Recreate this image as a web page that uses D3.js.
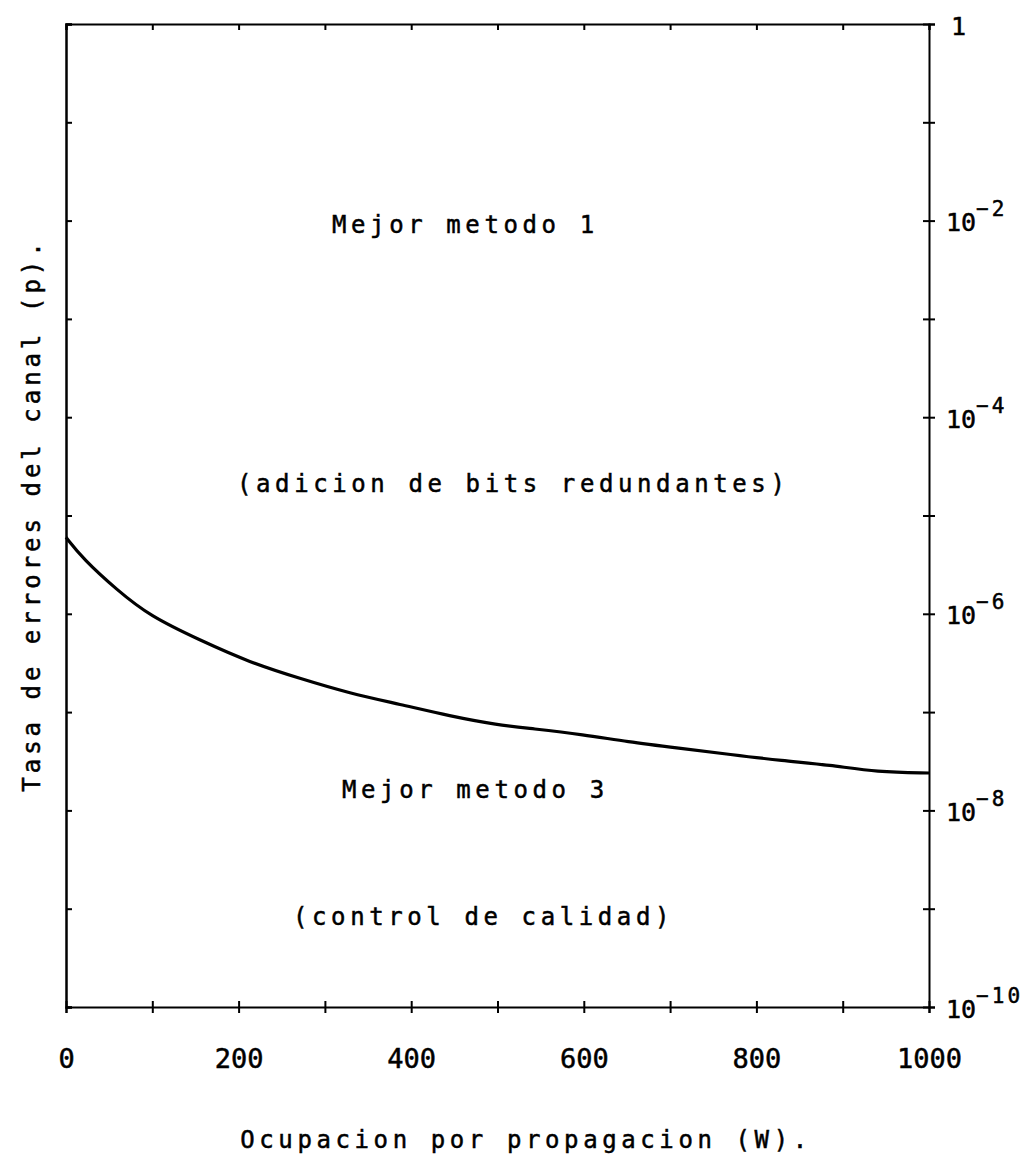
<!doctype html>
<html>
<head>
<meta charset="utf-8">
<style>
  body { margin: 0; background: #fff; }
  text { font-family: "DejaVu Sans Mono", monospace; fill: #000; stroke: #000; stroke-width: 0.5px; }
  .axis path, .axis line { stroke: #000; stroke-width: 2; }
</style>
<script src="https://d3js.org/d3.v7.min.js"></script>
</head>
<body>
<svg width="1031" height="1165" id="chart"></svg>
<script>
// values: occupation W and channel error rate p
var wValues = [0, 20, 59, 97, 155, 213, 271, 329, 387, 445, 500, 540, 600, 650, 710, 770, 830, 885, 940, 1000];
var pValues = [6.0e-6, 3.6e-6, 1.75e-6, 9.5e-7, 5.4e-7, 3.2e-7, 2.2e-7, 1.55e-7, 1.2e-7, 9.1e-8,
               7.4e-8, 6.8e-8, 5.9e-8, 5.0e-8, 4.3e-8, 3.7e-8, 3.2e-8, 2.9e-8, 2.45e-8, 2.4e-8];

var xTicks = [0, 100, 200, 300, 400, 500, 600, 700, 800, 900, 1000];
var xLabels = [0, 200, 400, 600, 800, 1000];
var yExponents = [0, 1, 2, 3, 4, 5, 6, 7, 8, 9, 10];
var yLabelExponents = [0, 2, 4, 6, 8, 10];

var svg = d3.select("#chart");
var plotLeft = 66, plotRight = 929, plotTop = 24, plotBottom = 1007;

var x = d3.scaleLinear().domain([0, 1000]).range([plotLeft, plotRight]);
var y = d3.scaleLog().domain([1, 1e-10]).range([plotTop, plotBottom]);
var yTicks = yExponents.map(function(e) { return Math.pow(10, -e); });

// bottom axis, ticks crossing the line
var gBottom = svg.append("g").attr("class", "axis")
    .attr("transform", "translate(0," + plotBottom + ")")
    .call(d3.axisBottom(x).tickValues(xTicks).tickSizeOuter(0).tickSize(6)
      .tickFormat(function(d) { return xLabels.indexOf(d) >= 0 ? d : ""; }));
gBottom.selectAll(".tick line").attr("y1", -6).attr("y2", 6);
gBottom.selectAll(".tick text")
    .attr("y", 61).attr("dy", 0)
    .style("font-size", "27px")
    .style("font-family", "DejaVu Sans Mono");

// top axis, ticks inward
svg.append("g").attr("class", "axis")
    .attr("transform", "translate(0," + plotTop + ")")
    .call(d3.axisTop(x).tickValues(xTicks).tickSizeOuter(0).tickSize(-6).tickFormat(""));

// left axis, ticks inward
svg.append("g").attr("class", "axis")
    .attr("transform", "translate(" + plotLeft + ",0)")
    .call(d3.axisLeft(y).tickValues(yTicks).tickSizeOuter(0).tickSize(-6).tickFormat(""))
    .select(".domain").style("stroke-width", 2.5);

// right axis, crossing ticks, labels 10^-n
var gRight = svg.append("g").attr("class", "axis")
    .attr("transform", "translate(" + plotRight + ",0)")
    .call(d3.axisRight(y).tickValues(yTicks).tickSizeOuter(0).tickSize(6).tickFormat(""));
gRight.selectAll(".tick line").attr("x1", -6).attr("x2", 6);

gRight.selectAll(".tick")
    .filter(function(d) { return yLabelExponents.indexOf(Math.round(-Math.log10(d))) >= 0; })
    .each(function(d) {
      var e = Math.round(-Math.log10(d));
      var t = d3.select(this).append("text")
          .attr("x", e === 0 ? 22 : 17).attr("y", 10)
          .attr("fill", "#000")
          .style("font-size", "25px")
          .style("font-family", "DejaVu Sans Mono")
          .attr("text-anchor", "start");
      if (e === 0) {
        t.text("1");
      } else {
        t.append("tspan").text("10");
        t.append("tspan")
          .attr("dy", -15)
          .style("font-size", "21px")
          .style("letter-spacing", "3px")
          .text("\u2212" + e);
      }
    });

// the boundary curve
var line = d3.line()
    .x(function(d, i) { return x(wValues[i]); })
    .y(function(d) { return y(d); })
    .curve(d3.curveBasis);

svg.append("path")
    .datum(pValues)
    .attr("d", line)
    .attr("fill", "none")
    .attr("stroke", "#000")
    .attr("stroke-width", 3.2);

// region notes
function note(txt, px, py) {
  svg.append("text")
     .attr("x", px).attr("y", py)
     .style("font-size", "24px")
     .style("letter-spacing", "4.6px")
     .text(txt);
}
note("Mejor metodo 1", 332, 233);
note("(adicion de bits redundantes)", 237, 492);
note("Mejor metodo 3", 342, 798);
note("(control de calidad)", 293, 925);

// axis titles
svg.append("text")
   .attr("x", 526).attr("y", 1148)
   .attr("text-anchor", "middle")
   .style("font-size", "24px")
   .style("letter-spacing", "4.6px")
   .text("Ocupacion por propagacion (W).");

svg.append("text")
   .attr("transform", "translate(40,515) rotate(-90)")
   .attr("text-anchor", "middle")
   .style("font-size", "24px")
   .style("letter-spacing", "4px")
   .text("Tasa de errores del canal (p).");
</script>
</body>
</html>
